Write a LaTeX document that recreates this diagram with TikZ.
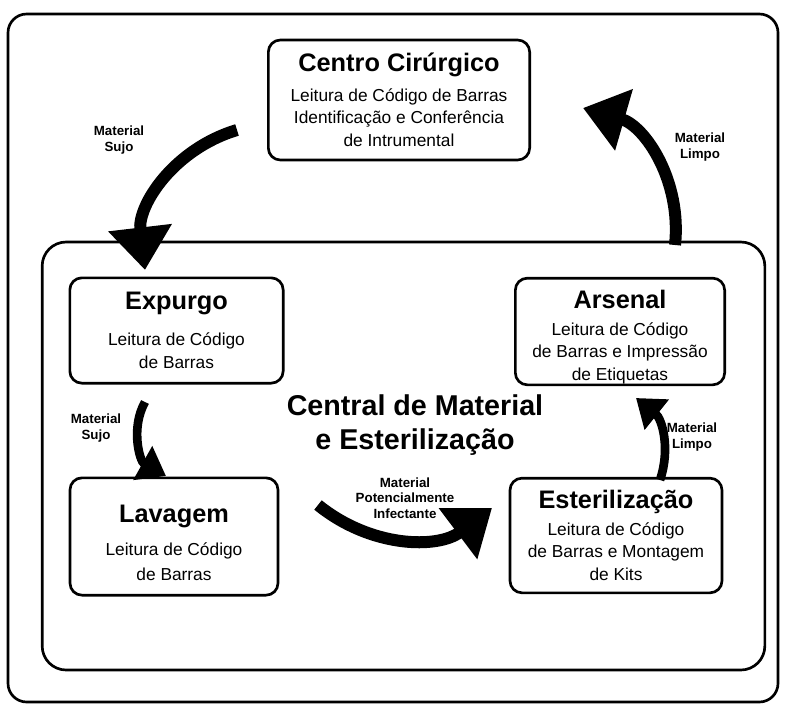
\documentclass[tikz,border=0pt]{standalone}
\usepackage{fontspec}
\setmainfont{Liberation Sans}
\usetikzlibrary{positioning,arrows.meta}

\tikzset{
  unit/.style={draw, line width=2pt, rounded corners=9pt, align=center,
    font=\fontsize{13}{17}\selectfont, inner sep=4pt},
  bigflow/.style={line width=9pt, -{Triangle[length=32pt,width=46pt]}},
  smallflow/.style={line width=6.5pt, -{Triangle[length=20pt,width=28pt]}},
  flowlabel/.style={font=\bfseries\fontsize{10}{11.5}\selectfont, align=center}
}
\newcommand{\unitname}[1]{{\bfseries\fontsize{19}{21}\selectfont #1}}

\begin{document}
\begin{tikzpicture}[x=0.75pt,y=-0.75pt]
   \useasboundingbox (0,0) rectangle (785,707);
   \draw[line width=2pt, rounded corners=14pt] (8,14) rectangle (778,702);

   % setores
   \node[unit, minimum width=196pt, minimum height=90pt] (cc) at (399,100)
      {\unitname{Centro Cirúrgico}\\[5pt] Leitura de Código de Barras\\
       Identificação e Conferência\\ de Intrumental};
   \node[draw, line width=2pt, rounded corners=18pt, minimum width=542pt,
      minimum height=321pt] (cme) at (403.5,456) {};
   \node[font=\bfseries\fontsize{21.5}{26}\selectfont, align=center] (cmename) at (415,425)
      {Central de Material\\e Esterilização};
   \node[unit, minimum width=160pt, minimum height=79pt] (exp) at (176.5,330.5)
      {\unitname{Expurgo}\\[10pt] Leitura de Código\\ de Barras};
   \node[unit, minimum width=157pt, minimum height=80pt] (ars) at (620,331.5) {};
   \node[align=center, font=\fontsize{13}{17}\selectfont] (arstext) at (620,337)
      {\unitname{Arsenal}\\[3pt] Leitura de Código\\ de Barras e Impressão\\ de Etiquetas};
   \node[unit, minimum width=156pt, minimum height=88pt] (lav) at (174,536.5) {};
   \node[align=center, font=\fontsize{13}{19}\selectfont] (lavtext) at (174,543)
      {\unitname{Lavagem}\\[6pt] Leitura de Código\\ de Barras};
   \node[unit, minimum width=159pt, minimum height=86pt] (est) at (616,535.5)
      {\unitname{Esterilização}\\[3pt] Leitura de Código\\ de Barras e Montagem\\ de Kits};

   % pontas das setas
   \coordinate (sujoA) at (237,130);   \coordinate (sujoB) at (145,270);
   \coordinate (limpoA) at (675,245);  \coordinate (limpoB) at (583,108);
   \coordinate (sujoC) at (145,402);   \coordinate (sujoD) at (166,476);
   \coordinate (limpoC) at (660,480);  \coordinate (limpoD) at (636,398);
   \coordinate (infA) at (318,505);    \coordinate (infB) at (492,508);

   \draw[bigflow] (sujoA) to[bend right=40] (sujoB);
   \draw[bigflow] (limpoA) to[bend right=40] (limpoB);
   \draw[smallflow] (sujoC) to[bend right=45] (sujoD);
   \draw[smallflow] (limpoC) to[bend right=35] (limpoD);
   \draw[bigflow] (infA) to[bend right=38] (infB);

   \node[flowlabel] (l1) at (119,140) {Material\\Sujo};
   \node[flowlabel] (l2) at (700,147) {Material\\Limpo};
   \node[flowlabel] (l3) at (96,428) {Material\\Sujo};
   \node[flowlabel] (l4) at (692,437) {Material\\Limpo};
   \node[flowlabel] (l5) at (405,498) {Material\\Potencialmente\\Infectante};
\end{tikzpicture}
\end{document}
